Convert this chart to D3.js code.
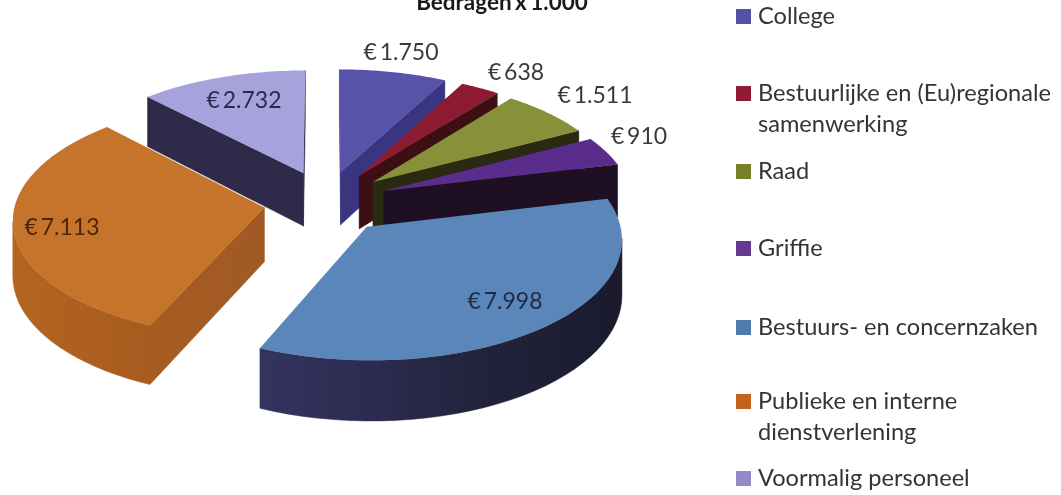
<!DOCTYPE html>
<html><head><meta charset="utf-8">
<script src="https://cdn.jsdelivr.net/npm/d3@7/dist/d3.min.js"></script>
<style>html,body{margin:0;padding:0;background:#fff}svg{display:block;filter:blur(0.45px)}text{font-family:Lato,"Open Sans",sans-serif}</style>
</head><body><svg id="c" width="1061" height="495"></svg>
<script>
const categories=["College","Bestuurlijke en (Eu)regionale samenwerking","Raad","Griffie","Bestuurs- en concernzaken","Publieke en interne dienstverlening","Voormalig personeel"];
const values=[1750,638,1511,910,7998,7113,2732];
const valueLabels=["€ 1.750","€ 638","€ 1.511","€ 910","€ 7.998","€ 7.113","€ 2.732"];
const topColors=["#5653a8","#8c1a30","#86913a","#5a2d8c","#5a86ba","#c6742c","#a6a3dc"];
const wallColors=["#3a3580","#3c0f14","#2a2a12","#1e0f22","#2a2b4c","#a55c22","#2f2a4a"];
const legendColors=["#5552a6","#8f1c34","#76802a","#643a90","#4f7bac","#c2621f","#918bc8"];
const labelColors=["#3a3a3a","#3a3a3a","#3a3a3a","#3a3a3a","#1f2a44","#4a2508","#2a2a50"];
const legendLines=[["College"],["Bestuurlijke en (Eu)regionale","samenwerking"],["Raad"],["Griffie"],["Bestuurs- en concernzaken"],["Publieke en interne","dienstverlening"],["Voormalig personeel"]];

const svg=d3.select("#c");
const cx=326,cy=202,R=249,K=117,persp=0.09,explodeX=0.25,explodeY=0.27,depth=54;
const project=(X,Y)=>{const s=1/(1+persp*Y);return [cx+R*X*s,cy-K*Y*s,s];};
const arcs=d3.pie().sort(null).value(d=>d)(values);
const line=d3.line();
const drawOrder=[0,1,2,3,6,5,4];

const defs=svg.append("defs");
const g=defs.append("linearGradient").attr("id","blueWall").attr("gradientUnits","userSpaceOnUse")
  .attr("x1",258).attr("x2",625).attr("y1",0).attr("y2",0);
[[0,"#34345f"],[0.3,"#2b2c50"],[0.6,"#22233c"],[1,"#1a1a2c"]].forEach(d=>g.append("stop").attr("offset",d[0]).attr("stop-color",d[1]));
const o=defs.append("linearGradient").attr("id","orangeWall").attr("gradientUnits","userSpaceOnUse")
  .attr("x1",10).attr("x2",262).attr("y1",0).attr("y2",0);
[[0,"#b4661f"],[0.5,"#a85c20"],[1,"#a05a24"]].forEach(d=>o.append("stop").attr("offset",d[0]).attr("stop-color",d[1]));
const wallFill=i=>i===4?"url(#blueWall)":i===5?"url(#orangeWall)":wallColors[i];

function wallPath(pts){
  const top=pts.map(p=>[p[0],p[1]]);
  const bot=pts.map(p=>[p[0],p[1]+depth*p[2]]).reverse();
  return line(top.concat(bot))+"Z";
}
drawOrder.forEach(i=>{
  const a=arcs[i],m=(a.startAngle+a.endAngle)/2;
  const ox=explodeX*Math.sin(m),oy=explodeY*Math.cos(m);
  const thetas=d3.range(0,41).map(k=>a.startAngle+(a.endAngle-a.startAngle)*k/40);
  const rim=thetas.map(t=>project(ox+Math.sin(t),oy+Math.cos(t)));
  const apex=project(ox,oy);
  const ring=[apex,...rim,apex];
  const G=svg.append("g");
  let run=[];
  const flush=()=>{if(run.length>1)G.append("path").attr("d",wallPath(run)).attr("fill",wallFill(i)).attr("stroke",wallFill(i)).attr("stroke-width",0.5);run=[];};
  for(let k=0;k<ring.length-1;k++){
    const p=ring[k],q=ring[k+1];
    if(q[0]-p[0]<-0.01){ if(!run.length)run.push(p); run.push(q);} else flush();
  }
  flush();
  G.append("path").attr("d",line(ring.map(p=>[p[0],p[1]]))+"Z").attr("fill",topColors[i]);
});

const labelPos=[[401,52],[516,72],[595,95],[639,136],[505,301],[62,227],[244,100]];
svg.selectAll("text.v").data(valueLabels).join("text").attr("class","v")
  .attr("x",(d,i)=>labelPos[i][0]).attr("y",(d,i)=>labelPos[i][1]).attr("dy","0.35em")
  .attr("text-anchor","middle").attr("font-size",23).attr("word-spacing",-3).attr("fill",(d,i)=>labelColors[i]).text(d=>d);

svg.append("text").attr("x",502).attr("y",10).attr("text-anchor","middle").attr("font-size",22.5).attr("font-weight",700).attr("word-spacing",-2).attr("fill","#1a1a1a").text("Bedragen x 1.000");

const legendY=[16,93,171,248,327,401,478];
const lg=svg.selectAll("g.l").data(categories).join("g").attr("class","l");
lg.append("rect").attr("x",736).attr("width",15).attr("height",15).attr("y",(d,i)=>legendY[i]-7).attr("fill",(d,i)=>legendColors[i]);
lg.each(function(d,i){
  legendLines[i].forEach((t,j)=>d3.select(this).append("text").attr("x",758).attr("y",legendY[i]+j*31).attr("dy","0.35em").attr("font-size",23.6).attr("fill","#33333a").text(t));
});
</script></body></html>
